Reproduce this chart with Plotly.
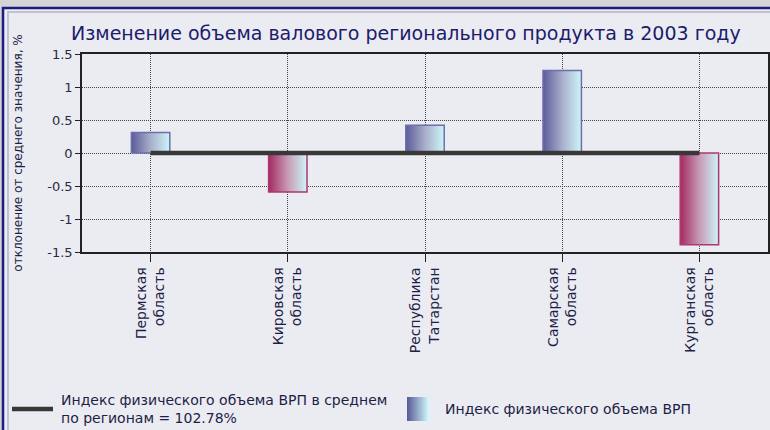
import plotly.graph_objects as go

# data
regions = ["Пермская<br>область", "Кировская<br>область", "Республика<br>Татарстан",
           "Самарская<br>область", "Курганская<br>область"]
deviation = [0.31, -0.59, 0.42, 1.25, -1.39]
avg_line = [0, 0, 0, 0, 0]
y_ticks = [-1.5, -1, -0.5, 0, 0.5, 1, 1.5]
y_tick_text = ["-1.5", "-1", "-0.5", "0", "0.5", "1", "1.5"]
title = "Изменение объема валового регионального продукта в 2003 году"
y_title = "отклонение от среднего значения, %"
legend_line = "Индекс физического объема ВРП в среднем<br>по регионам = 102.78%"
legend_bar = "Индекс физического объема ВРП"

W, H = 770, 430
L, R, T, B = 82, 2, 54, 178
PW, PH = W - L - R, H - T - B
FONT = "DejaVu Sans"
BG = "#EBEBF2"
TXT = "#1E1E46"


def px(x):
    return (x - L) / PW


def py(y):
    return (H - B - y) / PH


fig = go.Figure()

half = 0.14
for i, v in enumerate(deviation):
    if v >= 0:
        dark, mid, edge = "#5A5C98", "#A9AECB", "#6E6EAE"
    else:
        dark, mid, edge = "#A22A62", "#C79AB4", "#B03672"
    fig.add_trace(go.Scatter(
        x=[i - half, i - half, i + half, i + half, i - half],
        y=[0, v, v, 0, 0],
        mode="lines", fill="toself",
        fillgradient=dict(type="horizontal", colorscale=[[0, dark], [0.5, mid], [1, "#CBF6F8"]]),
        line=dict(color=edge, width=1.5),
        showlegend=False, hoverinfo="skip"))

fig.add_trace(go.Scatter(x=list(range(len(regions))), y=avg_line, mode="lines",
                         line=dict(color="#383838", width=4.5),
                         showlegend=False, hoverinfo="skip"))

grid = dict(showgrid=True, gridcolor="#444444", gridwidth=1, griddash="1px,1px")
fig.update_xaxes(range=[-0.5, len(regions) - 0.5], tickvals=list(range(len(regions))),
                 ticktext=regions, tickangle=-90, ticks="outside", ticklen=8,
                 tickcolor="#222222", showline=True, linecolor="#222222", linewidth=1.5,
                 mirror=True, zeroline=False, automargin=False,
                 tickfont=dict(family=FONT, size=14, color=TXT), **grid)
fig.update_yaxes(range=[-1.5, 1.5], tickvals=y_ticks, ticktext=y_tick_text,
                 ticks="outside", ticklen=5, tickcolor="#222222", showline=True,
                 linecolor="#222222", linewidth=1.5, mirror=True, zeroline=False,
                 automargin=False, tickfont=dict(family=FONT, size=13, color="#2A2A44"),
                 title=dict(text=y_title, font=dict(family=FONT, size=12, color=TXT), standoff=22),
                 **grid)

shapes = [
    # window frame
    dict(type="rect", xref="paper", yref="paper", x0=px(3), x1=px(800), y0=py(8), y1=py(470),
         line=dict(color="#1C1C80", width=2.5), fillcolor=BG, layer="below"),
    dict(type="rect", xref="paper", yref="paper", x0=px(8), x1=px(800), y0=py(12), y1=py(470),
         line=dict(color="#B4B4CC", width=1.5), fillcolor="rgba(0,0,0,0)", layer="below"),
    # legend line symbol
    dict(type="line", xref="paper", yref="paper", x0=px(12), x1=px(53), y0=py(409), y1=py(409),
         line=dict(color="#383838", width=4.5)),
]
# legend swatch gradient
sw_left, sw_right = (0x5A, 0x5C, 0x98), (0xD0, 0xF8, 0xFA)
n = 22
for k in range(n):
    t = k / (n - 1)
    c = "rgb({},{},{})".format(*[round(a + (b - a) * t) for a, b in zip(sw_left, sw_right)])
    shapes.append(dict(type="rect", xref="paper", yref="paper", x0=px(407 + k), x1=px(408 + k),
                       y0=py(421), y1=py(397), line=dict(width=0), fillcolor=c))

annotations = [
    dict(text=title, xref="paper", yref="paper", x=px(69), y=py(33), xanchor="left", yanchor="middle",
         showarrow=False, font=dict(family=FONT, size=19, color="#1C1C6C")),
    dict(text=legend_line, xref="paper", yref="paper", x=px(59), y=py(409), xanchor="left", yanchor="middle",
         align="left", showarrow=False, font=dict(family=FONT, size=14, color=TXT)),
    dict(text=legend_bar, xref="paper", yref="paper", x=px(443), y=py(409), xanchor="left", yanchor="middle",
         showarrow=False, font=dict(family=FONT, size=14, color=TXT)),
]

fig.update_layout(width=W, height=H, margin=dict(l=L, r=R, t=T, b=B),
                  paper_bgcolor="#D4D4D6", plot_bgcolor="rgba(0,0,0,0)",
                  shapes=shapes, annotations=annotations, showlegend=False)

fig.write_html("out.html", config={"displayModeBar": False},
               post_script="document.body.style.margin='0';")
